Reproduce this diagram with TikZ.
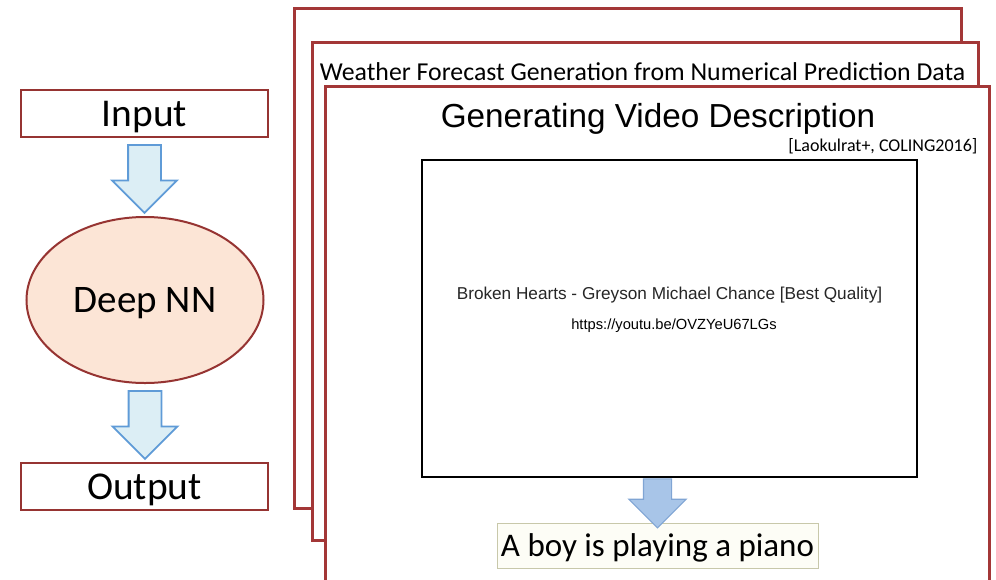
\documentclass[tikz,border=0pt]{standalone}
\usepackage{fontspec}
\setmainfont{Carlito}
\newfontfamily\arialfont{Liberation Sans}
\usetikzlibrary{shapes.geometric,shapes.arrows,calc,positioning}
\definecolor{framered}{RGB}{163,55,55}
\definecolor{boxred}{RGB}{150,52,50}
\definecolor{nnfill}{RGB}{252,229,214}
\definecolor{arrowblue}{RGB}{95,155,215}
\definecolor{arrowfill}{RGB}{220,238,245}
\definecolor{darkblue}{RGB}{128,165,212}
\definecolor{midblue}{RGB}{168,197,232}
\definecolor{captionline}{RGB}{200,200,170}
\definecolor{captionfill}{RGB}{253,253,246}
\begin{document}
\begin{tikzpicture}
[x=1pt,y=-1pt,
  boxdecorate/.style={draw=boxred,line width=2pt,minimum width=247pt,
    minimum height=47pt,inner sep=0pt,text depth=0pt,
    font=\fontsize{39.4}{39.4}\selectfont},%
  nndecorate/.style={ellipse,draw=boxred,fill=nnfill,line width=2pt,
    minimum width=237pt,minimum height=166pt,inner sep=0pt,text depth=0pt,
    font=\fontsize{39}{39}\selectfont},%
  arrowdecorate/.style={single arrow,shape border rotate=270,draw=arrowblue,
    fill=arrowfill,line width=1.8pt,inner sep=15.5pt,anchor=tail,
    single arrow head extend=16pt,minimum height=68pt},%
  framedecorate/.style={draw=framered,fill=white,line width=3pt}]
\useasboundingbox (0,0) rectangle (996,579);
\clip (0,0) rectangle (996,579);
%% left: input, deep NN, output
\node (input) at (144.5,113.5) [boxdecorate] {Input};
\node (deepnn) at (145,300) [nndecorate] {Deep NN};
\node (output) at (144.5,486.5) [boxdecorate] {Output};
\foreach \startnode/\endnode in {input/deepnn, deepnn/output}
{
  \node (\startnode-\endnode) at ($(\startnode.south)+(0,6)$)
    [arrowdecorate] {};
}
%% right: stacked slides
\foreach \framename/\xa/\ya/\xb/\yb in {
  back/294/8/961/508, middle/312/42/978/540, front/325/86/989/620}
{
  \draw[framedecorate] (\xa,\ya) rectangle (\xb,\yb);
}
\node (weather) at (642.5,72) [font=\fontsize{25.8}{25.8}\selectfont] 
  {Weather Forecast Generation from Numerical Prediction Data};
\node (title) at (658,119) [font=\arialfont\fontsize{33.3}{33.3}\selectfont]
  {Generating Video Description};
\node (citation) [anchor=east,font=\fontsize{18}{18}\selectfont] at (981,146)
  {[Laokulrat+, COLING2016]};
\node (video) at (669.5,318.5) [draw=black,line width=2.5pt,
  minimum width=495pt,minimum height=317pt] {};
\node (songtitle) at (669.5,295) [font=\arialfont\fontsize{17.2}{17.2}\selectfont,
  text=black!85] {Broken Hearts - Greyson Michael Chance [Best Quality]};
\node (songurl) at (674,326) [font=\arialfont\fontsize{14.7}{14.7}\selectfont]
  {https://youtu.be/OVZYeU67LGs};
\node (caption) at (657.5,545.5) [draw=captionline,fill=captionfill,
  line width=1pt,minimum width=321pt,minimum height=45pt,inner sep=0pt,
  text depth=0pt,font=\fontsize{33}{33}\selectfont] {A boy is playing a piano};
\node (video-caption) at (video.south -| caption.north)
  [arrowdecorate,draw=darkblue,fill=midblue,line width=1.2pt,inner sep=13.5pt,
  single arrow head extend=14.5pt,minimum height=49pt] {};
\end{tikzpicture}
\end{document}
